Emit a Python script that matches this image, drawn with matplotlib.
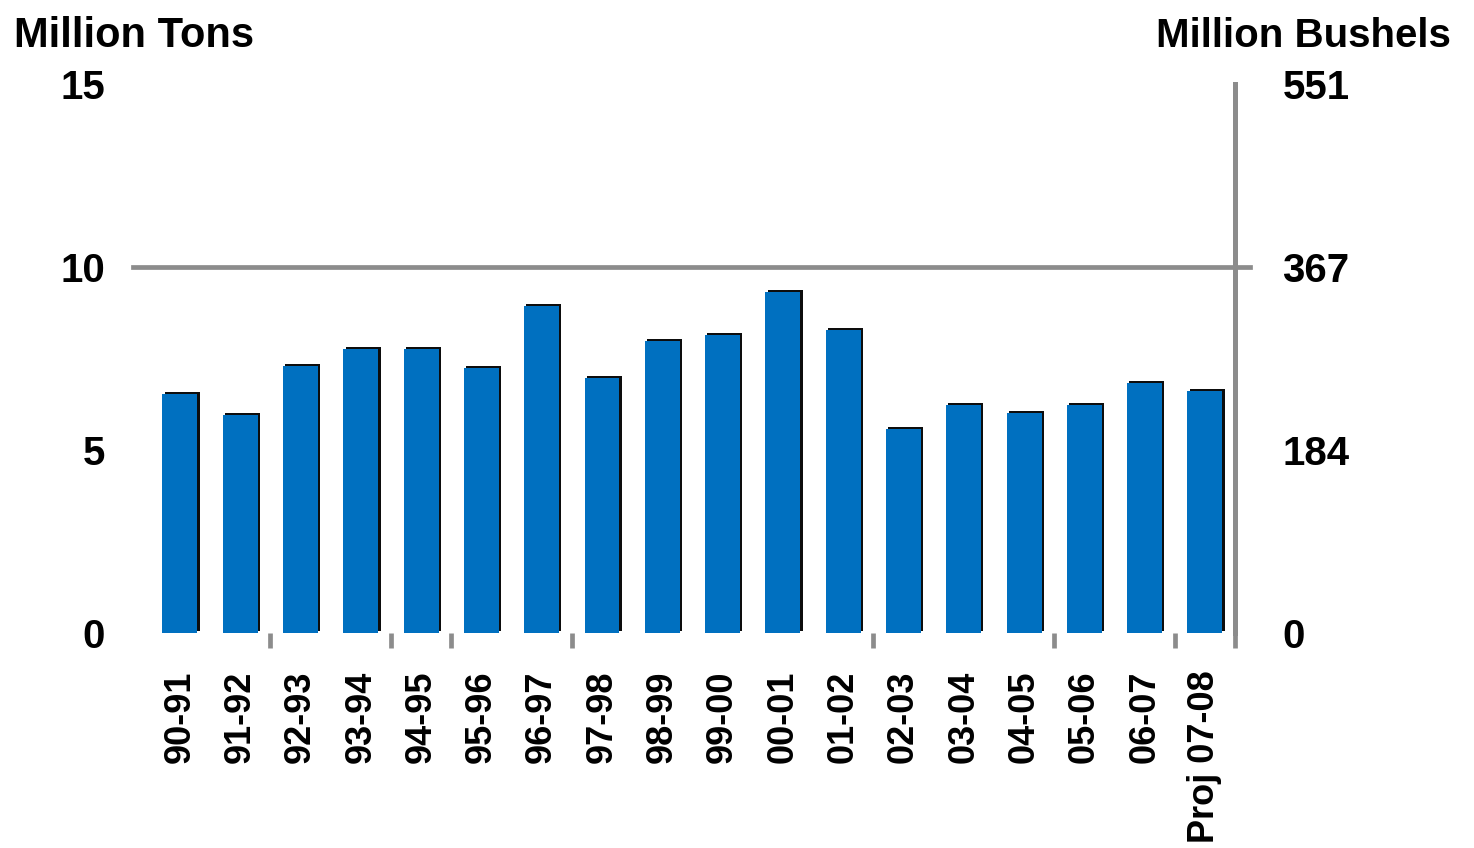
import matplotlib
matplotlib.use("Agg")
from matplotlib import pyplot as plt
from matplotlib import patheffects

# -----------------------------------------------------------------------------------------
# Data

seasons = ["90-91", "91-92", "92-93", "93-94", "94-95", "95-96", "96-97", "97-98", "98-99",
           "99-00", "00-01", "01-02", "02-03", "03-04", "04-05", "05-06", "06-07", "Proj 07-08"]
million_tons = [6.53, 5.96, 7.30, 7.76, 7.76, 7.24, 8.93, 6.97, 7.98,
                8.14, 9.32, 8.28, 5.57, 6.23, 6.01, 6.23, 6.83, 6.61]
tons_ticks = [0, 5, 10, 15]
bushel_ticks = [0, 184, 367, 551]
# boundaries between bars that carry a visible tick mark
tick_gaps = [1.5, 3.5, 4.5, 6.5, 11.5, 14.5, 16.5, 17.5]

# -----------------------------------------------------------------------------------------
# Style

plt.rcParams["font.family"] = ["Liberation Sans", "DejaVu Sans"]
plt.rcParams["font.weight"] = "bold"
BLUE = "#0070C0"
GREY = "#8c8c8c"

fig = plt.figure(figsize=(14.74, 8.48), dpi=100)
ax = fig.add_axes([0.0902, 0.2535, 0.7477, 0.6474])

x = list(range(len(seasons)))
shadow = [patheffects.withSimplePatchShadow(offset=(1.6, 1.6), shadow_rgbFace="black", alpha=0.95)]
ax.bar(x, million_tons, width=0.58, color=BLUE, path_effects=shadow, zorder=3)

ax.set_xlim(-0.78, 17.5)
ax.set_ylim(0, 15)
ax.axhline(10, xmin=0, xmax=1.0136, color=GREY, lw=3.4, clip_on=False, zorder=2)

for side in ["left", "top", "bottom", "right"]:
    ax.spines[side].set_visible(False)

ax.set_yticks(tons_ticks)
ax.set_yticklabels([str(t) for t in tons_ticks], fontsize=29, fontweight="bold")
ax.tick_params(axis="y", length=0, pad=20)

ax.set_xticks(x)
ax.set_xticklabels(seasons, rotation=90, fontsize=26, fontweight="bold", va="top")
ax.tick_params(axis="x", which="major", length=0, pad=27)
ax.set_xticks(tick_gaps, minor=True)
ax.tick_params(axis="x", which="minor", length=11, width=3.4, color=GREY)

ax2 = ax.twinx()
ax2.set_ylim(0, 551)
ax2.set_yticks(bushel_ticks)
ax2.set_yticklabels([str(t) for t in bushel_ticks], fontsize=29, fontweight="bold")
ax2.tick_params(axis="y", length=0, pad=34)
for side in ["left", "top", "bottom"]:
    ax2.spines[side].set_visible(False)
ax2.spines["right"].set_color(GREY)
ax2.spines["right"].set_linewidth(3.6)

fig.text(0.0095, 0.958, "Million Tons", fontsize=30, fontweight="bold", va="center", ha="left")
fig.text(0.984, 0.958, "Million Bushels", fontsize=29, fontweight="bold", va="center", ha="right")

fig.savefig("out.png", dpi=100)
